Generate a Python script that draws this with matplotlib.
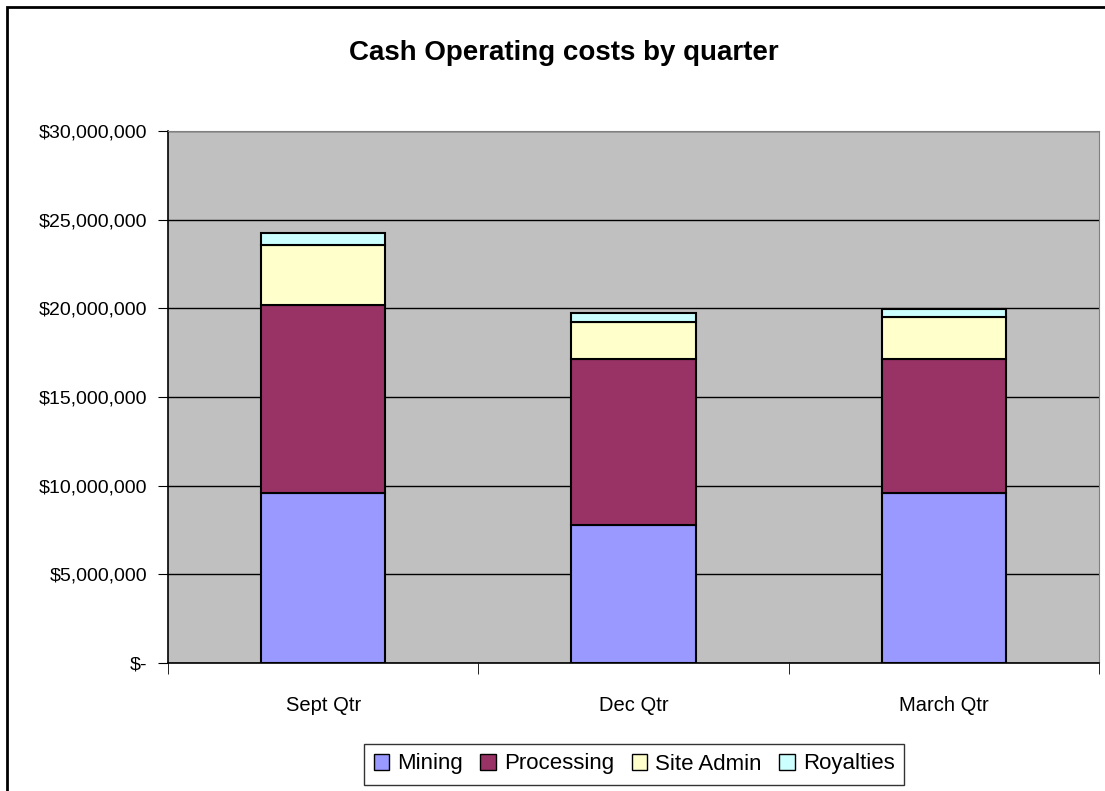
import matplotlib.pyplot as plt
from matplotlib.patches import Rectangle
from matplotlib.ticker import FuncFormatter
import numpy as np

plt.rcParams['font.family'] = ['Liberation Sans', 'DejaVu Sans']

quarters = ['Sept Qtr', 'Dec Qtr', 'March Qtr']
mining = [9590000, 7760000, 9590000]
processing = [10580000, 9360000, 7530000]
site_admin = [3390000, 2110000, 2410000]
royalties = [680000, 530000, 450000]

series = [('Mining', mining, '#9999FF'),
          ('Processing', processing, '#993366'),
          ('Site Admin', site_admin, '#FFFFCC'),
          ('Royalties', royalties, '#CCFFFF')]

fig = plt.figure(figsize=(11.05, 7.91), dpi=100)
ax = fig.add_axes([168 / 1105, 1 - 663 / 791, (1099 - 168) / 1105, (663 - 131) / 791])
ax.set_facecolor('#C0C0C0')

x = np.arange(len(quarters))
bottom = np.zeros(len(quarters))
for name, vals, col in series:
    ax.bar(x, vals, 0.4, bottom=bottom, color=col, edgecolor='black',
           linewidth=1.5, label=name, zorder=3)
    bottom += np.array(vals)

ax.set_xlim(-0.5, 2.5)
ax.set_ylim(0, 30000000)
ax.set_yticks(np.arange(0, 30000001, 5000000))


def money(v, pos):
    if v == 0:
        return '$-'
    return '${:,.0f}'.format(v)


ax.yaxis.set_major_formatter(FuncFormatter(money))
ax.yaxis.grid(True, color='black', linewidth=1, zorder=0)
ax.set_axisbelow(True)

ax.set_xticks(x)
ax.set_xticklabels(quarters, fontsize=14.5)
ax.tick_params(axis='x', length=0, pad=24)
ax.set_xticks([-0.5, 0.5, 1.5, 2.5], minor=True)
ax.tick_params(axis='x', which='minor', length=8, direction='out', color='black')
ax.tick_params(axis='y', labelsize=14, length=7, direction='out', pad=8)

for s in ['top', 'right']:
    ax.spines[s].set_color('#808080')
for s in ['left', 'bottom']:
    ax.spines[s].set_color('black')
    ax.spines[s].set_linewidth(1.2)

fig.text(564 / 1105, 1 - 53 / 791, 'Cash Operating costs by quarter',
         ha='center', va='center', fontsize=20, fontweight='bold')

leg = fig.legend(loc='center', bbox_to_anchor=(634 / 1105, 1 - 764 / 791),
                 ncol=4, fontsize=16, frameon=True, fancybox=False,
                 handlelength=0.7, handleheight=0.7, handletextpad=0.35,
                 columnspacing=0.8, borderpad=0.45, borderaxespad=0)
leg.get_frame().set_edgecolor('black')
leg.get_frame().set_linewidth(1)
for h in leg.legend_handles:
    h.set_linewidth(1)

fig.patches.append(Rectangle((7 / 1105, -0.1), 1.2, 1.1 - 7 / 791,
                             transform=fig.transFigure, fill=False,
                             edgecolor='black', linewidth=2))

fig.savefig('out.png', dpi=100)
